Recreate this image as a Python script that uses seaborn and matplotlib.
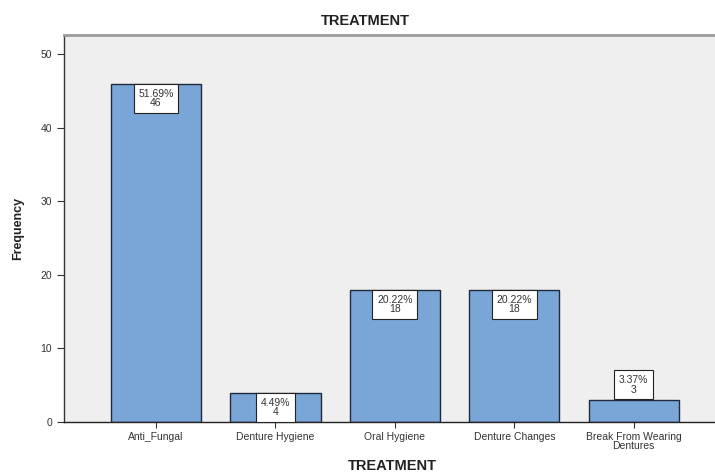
import matplotlib
matplotlib.use("Agg")
import matplotlib.pyplot as plt
import seaborn as sns
import pandas as pd

# Treatment frequencies
categories = ["Anti_Fungal", "Denture Hygiene", "Oral Hygiene",
              "Denture Changes", "Break From Wearing\nDentures"]
counts = [46, 4, 18, 18, 3]
percent_labels = ["51.69%", "4.49%", "20.22%", "20.22%", "3.37%"]

df = pd.DataFrame({"TREATMENT": categories, "Frequency": counts})

sns.set_theme(style="white")
plt.rcParams["font.family"] = ["Liberation Sans", "DejaVu Sans"]

W, H = 715, 475
fig = plt.figure(figsize=(W / 100, H / 100), dpi=100)
ax = fig.add_axes([64 / W, 1 - 422 / H, 1 - 64 / W, (422 - 35) / H])
ax.set_facecolor("#efefef")

sns.barplot(data=df, x="TREATMENT", y="Frequency", ax=ax,
            color="#79a6d6", saturation=1, width=0.755,
            edgecolor="#1f2a3a", linewidth=1.0)

ax.set_xlim(-0.77, 4.68)
ax.set_ylim(0, 52.6)
ax.set_yticks([0, 10, 20, 30, 40, 50])

ax.spines["right"].set_visible(False)
ax.spines["left"].set_color("#333333")
ax.spines["left"].set_linewidth(1.0)
ax.spines["bottom"].set_color("#222222")
ax.spines["bottom"].set_linewidth(1.0)
ax.spines["top"].set_color("#9a9a9a")
ax.spines["top"].set_linewidth(2.0)

ax.tick_params(axis="both", which="both", labelsize=7.5, colors="#333333",
               length=5, width=0.8, direction="out")
ax.tick_params(axis="x", length=4)
ax.tick_params(axis="y", left=True)
ax.tick_params(axis="x", bottom=True)
for lbl in ax.get_xticklabels():
    lbl.set_linespacing(0.85)

ax.set_xlabel("")
ax.set_ylabel("")
fig.text(18 / W, 1 - 228 / H, "Frequency", rotation=90, ha="center",
         va="center", fontsize=9, fontweight="bold", color="#222222")
fig.text(392 / W, 1 - 466 / H, "TREATMENT", ha="center", va="center",
         fontsize=10.5, fontweight="bold", color="#222222")
fig.text(365 / W, 1 - 21 / H, "TREATMENT", ha="center", va="center",
         fontsize=10.5, fontweight="bold", color="#222222")

box = dict(boxstyle="square,pad=0.45", facecolor="white",
           edgecolor="#222222", linewidth=0.8)
for i, (c, p) in enumerate(zip(counts, percent_labels)):
    txt = f"{p}\n{c}"
    if c >= 4:
        ax.annotate(txt, xy=(i, c), xytext=(0, -3.8), textcoords="offset points",
                    ha="center", va="top", fontsize=7.5, color="#333333",
                    linespacing=0.95, bbox=box)
    else:
        ax.annotate(txt, xy=(i, c), xytext=(0, 3.8), textcoords="offset points",
                    ha="center", va="bottom", fontsize=7.5, color="#333333",
                    linespacing=0.95, bbox=box)

fig.savefig("out.png", dpi=100, facecolor="white")
